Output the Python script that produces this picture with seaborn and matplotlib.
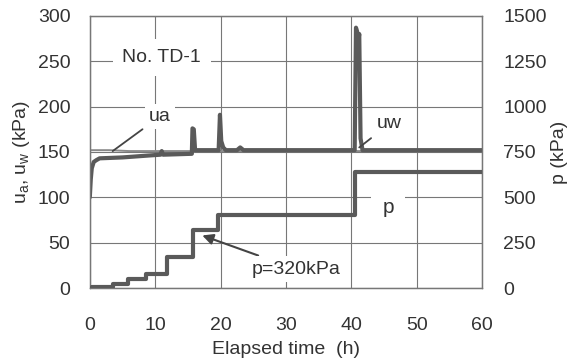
import matplotlib
matplotlib.use("Agg")
import matplotlib.pyplot as plt
import seaborn as sns
import pandas as pd

# pore pressures (left axis, kPa)
t_uw = [0.0, 0.15, 0.3, 0.6, 1.0, 1.5, 5.0, 8.8, 10.8, 11.0, 11.2, 15.6, 15.7, 15.9, 16.1,
        19.7, 19.9, 20.1, 20.4, 20.8, 22.5, 23.0, 23.5, 40.5, 40.7, 40.9, 41.05, 41.2, 41.4, 41.7, 60.0]
uw = [100, 120, 132, 139, 141, 143, 144, 146, 147, 151, 147, 148, 176, 175, 152,
      152, 191, 162, 155, 152, 152, 155, 152, 152, 287, 282, 272, 280, 165, 152, 152]
t_ua = [0.0, 3.0, 6.0, 10.0, 15.0, 60.0]
ua = [152, 152, 151, 151, 151, 151]

# applied pressure p (right axis, kPa), stepwise
t_p = [0.0, 0.3, 3.5, 5.8, 8.6, 11.8, 15.8, 19.6, 40.6, 60.0]
p = [0, 5, 20, 50, 80, 170, 320, 400, 640, 640]

sns.set_style("white")
plt.rcParams["font.family"] = ["Liberation Sans", "DejaVu Sans"]
plt.rcParams["mathtext.fontset"] = "custom"
plt.rcParams["mathtext.rm"] = "Liberation Sans"
plt.rcParams["mathtext.it"] = "Liberation Sans"

fig = plt.figure(figsize=(5.72, 3.61), dpi=100)
ax = fig.add_axes([0.157, 0.202, 0.686, 0.754])
ax2 = ax.twinx()

gray = "#5a5a5a"
txt = "#333333"
df_uw = pd.DataFrame({"t": t_uw, "u": uw})
df_ua = pd.DataFrame({"t": t_ua, "u": ua})
df_p = pd.DataFrame({"t": t_p, "p": p})

sns.lineplot(data=df_ua, x="t", y="u", ax=ax, color="#8a8a8a", lw=1.4, zorder=3)
sns.lineplot(data=df_uw, x="t", y="u", ax=ax, color=gray, lw=3.0, zorder=4)
sns.lineplot(data=df_p, x="t", y="p", ax=ax2, color=gray, lw=3.0, drawstyle="steps-post", zorder=4)

ax.set_xlim(0, 60)
ax.set_ylim(0, 300)
ax2.set_ylim(0, 1500)
ax.set_xticks(range(0, 61, 10))
ax.set_xticks(range(5, 60, 10), minor=True)
ax.set_yticks(range(0, 301, 50))
ax2.set_yticks(range(0, 1501, 250))

ax.grid(True, which="major", color="#777777", lw=0.8)
ax.set_axisbelow(True)
for a in (ax, ax2):
    for s in a.spines.values():
        s.set_color("#777777")
        s.set_linewidth(0.9)

ax.tick_params(axis="x", which="major", direction="in", length=0, pad=21, labelsize=14, labelcolor=txt)
ax.tick_params(axis="x", which="minor", direction="in", length=5, color="#777777")
ax.tick_params(axis="y", direction="in", length=0, pad=14, labelsize=14, labelcolor=txt)
ax2.tick_params(axis="y", direction="in", length=0, pad=15, labelsize=14, labelcolor=txt)

ax.set_xlabel("Elapsed time  (h)", fontsize=14, color=txt, labelpad=5)
ax.set_ylabel("u$_a$, u$_w$ (kPa)", fontsize=14, color=txt, labelpad=4)
ax2.set_ylabel("p (kPa)", fontsize=14, color=txt, labelpad=3)

ax.text(11, 254, "No. TD-1", fontsize=14, color=txt, ha="center", va="center",
        bbox=dict(facecolor="white", edgecolor="none", pad=7), zorder=5)
box = dict(facecolor="white", edgecolor="none", pad=3)
ax.annotate("ua", xy=(3.5, 151), xytext=(10.7, 189), fontsize=14, color=txt,
            ha="center", va="center", bbox=box, zorder=5,
            arrowprops=dict(arrowstyle="-", color="#444444", lw=1.3, shrinkA=2, shrinkB=0))
ax.annotate("uw", xy=(41.2, 155), xytext=(45.8, 181), fontsize=14, color=txt,
            ha="center", va="center", bbox=box, zorder=5,
            arrowprops=dict(arrowstyle="-", color="#444444", lw=1.3, shrinkA=2, shrinkB=0))
ax.text(45.6, 89, "p", fontsize=15, color=txt, ha="center", va="center",
        bbox=dict(facecolor="white", edgecolor="none", pad=8), zorder=5)
ax.annotate("p=320kPa", xy=(17.2, 58), xytext=(31.5, 21), fontsize=14, color=txt,
            ha="center", va="center", bbox=box, zorder=5,
            arrowprops=dict(arrowstyle="-|>", color="#444444", lw=1.5, mutation_scale=16,
                            shrinkA=2, shrinkB=0))

fig.savefig("out.png", dpi=100, facecolor="white")
